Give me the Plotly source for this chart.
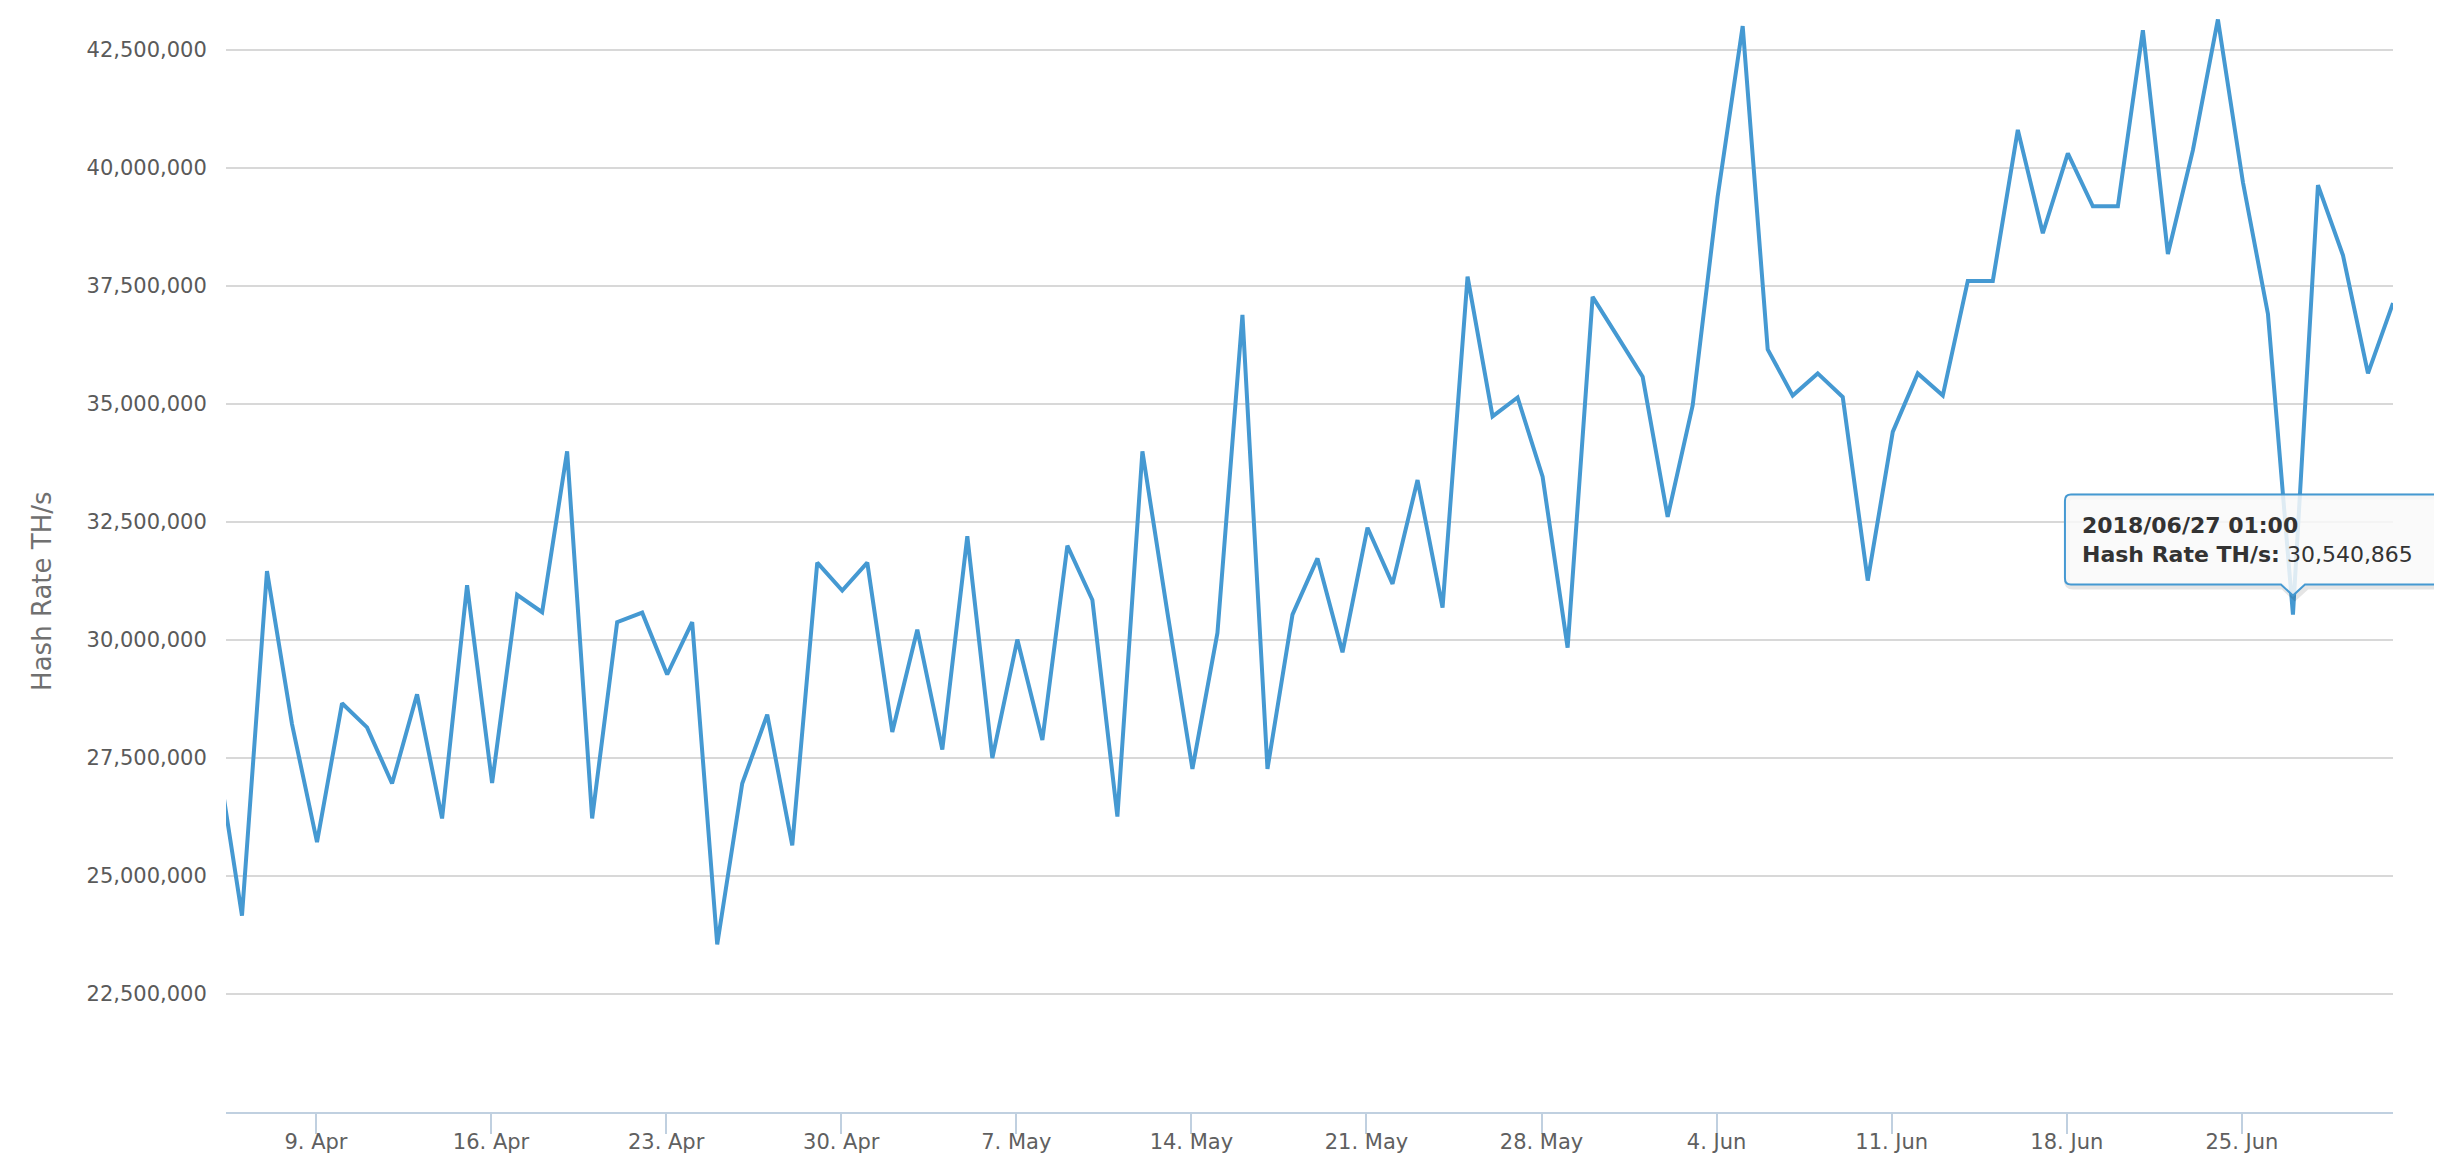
import pandas as pd
import plotly.graph_objects as go

# ---- data ----
dates = pd.date_range("2018-04-05 01:00", "2018-07-01 01:00", freq="D")
hash_rate_m = [
    # Apr 5 - Apr 30
    27.6, 24.16, 31.46, 28.22, 25.72, 28.66, 28.15, 26.96, 28.85, 26.22,
    31.16, 26.97, 30.96, 30.59, 34.00, 26.22, 30.38, 30.58, 29.27, 30.38,
    23.55, 26.96, 28.42, 25.65, 31.64, 31.05,
    # May 1 - May 31
    31.64, 28.05, 30.22, 27.68, 32.2, 27.5, 30.01, 27.88, 32.0, 30.85,
    26.26, 34.0, 30.58, 27.27, 30.15, 36.89, 27.27, 30.54, 31.73, 29.74,
    32.38, 31.19, 33.39, 30.69, 37.7, 34.74, 35.14, 33.46, 29.84, 37.27,
    36.43,
    # Jun 1 - Jun 30
    35.58, 32.61, 34.97, 39.4, 43.01, 36.16, 35.18, 35.65, 35.15, 31.26,
    34.41, 35.65, 35.18, 37.61, 37.61, 40.81, 38.62, 40.31, 39.19, 39.19,
    42.92, 38.18, 40.38, 43.15, 39.7, 36.91, 30.540865, 39.64, 38.15, 35.65,
    # Jul 1
    37.14,
]
hash_rate = [v * 1e6 for v in hash_rate_m]

x_tick_vals = ["2018-04-09", "2018-04-16", "2018-04-23", "2018-04-30",
               "2018-05-07", "2018-05-14", "2018-05-21", "2018-05-28",
               "2018-06-04", "2018-06-11", "2018-06-18", "2018-06-25"]
x_tick_text = ["9. Apr", "16. Apr", "23. Apr", "30. Apr", "7. May", "14. May",
               "21. May", "28. May", "4. Jun", "11. Jun", "18. Jun", "25. Jun"]
y_tick_vals = [22.5e6, 25e6, 27.5e6, 30e6, 32.5e6, 35e6, 37.5e6, 40e6, 42.5e6]

series_name = "Hash Rate TH/s"
tooltip_date = pd.Timestamp("2018-06-27 01:00")

x_range = [pd.Timestamp("2018-04-05 09:40"), pd.Timestamp("2018-07-01 01:00")]
y_range = [20e6, 43.35e6]

LINE = "#4599d2"
FONT = "DejaVu Sans"

fig = go.Figure()
fig.add_trace(go.Scatter(
    x=dates, y=hash_rate, mode="lines", name=series_name,
    line=dict(color=LINE, width=4), hoverinfo="skip",
))

# ---- tooltip (static callout anchored to the hovered point) ----
ti = list(dates).index(tooltip_date)
tx, ty = dates[ti], hash_rate[ti]
# position of the point as a fraction of the plot area (so the callout is not clipped)
fx = (tx - x_range[0]) / (x_range[1] - x_range[0])
fy = (ty - y_range[0]) / (y_range[1] - y_range[0])

box = ("M -222,120 L 142,120 Q 148,120 148,114 L 148,36 Q 148,30 142,30 "
       "L 12,30 L 0,19 L -12,30 L -222,30 Q -228,30 -228,36 L -228,114 "
       "Q -228,120 -222,120 Z")
shadow = ("M -220,118 L 144,118 Q 150,118 150,112 L 150,34 Q 150,28 144,28 "
          "L 14,28 L 2,17 L -10,28 L -220,28 Q -226,28 -226,34 L -226,112 "
          "Q -226,118 -220,118 Z")
for path, line, fill in [
    (shadow, dict(color="rgba(0,0,0,0.10)", width=6), "rgba(0,0,0,0)"),
    (box, dict(color=LINE, width=2), "rgba(249,249,249,0.85)"),
]:
    fig.add_shape(type="path", xref="paper", yref="paper",
                  xsizemode="pixel", ysizemode="pixel",
                  xanchor=fx, yanchor=fy, path=path, layer="above",
                  line=line, fillcolor=fill)

fig.add_annotation(
    x=fx, y=fy, xref="paper", yref="paper", showarrow=False,
    xanchor="left", yanchor="middle", xshift=-213, yshift=75, align="left",
    text=(f"<b>{tx.strftime('%Y/%m/%d %H:%M')}</b><br>"
          f"<b>{series_name}:</b> {ty:,.0f}"),
    font=dict(family=FONT, size=22, color="#333333"),
)

# ---- y axis title ----
fig.add_annotation(
    xref="paper", yref="paper", x=-0.0849, y=0.472, showarrow=False,
    text=series_name, textangle=-90, xanchor="center", yanchor="middle",
    font=dict(family=FONT, size=26, color="#707070"),
)

# page body adds an 8px offset; figure size and margins compensate so the
# plot lands in place and no scrollbars appear
fig.update_layout(
    width=2434, height=1168,
    margin=dict(l=218, r=49, t=2, b=64),
    paper_bgcolor="white", plot_bgcolor="white",
    showlegend=False,
    font=dict(family=FONT, size=21, color="#606060"),
    xaxis=dict(
        type="date",
        range=[str(x_range[0]), str(x_range[1])],
        tickvals=x_tick_vals, ticktext=x_tick_text,
        showgrid=False, zeroline=False,
        showline=True, linecolor="#C0D0E0", linewidth=2,
        ticks="outside", ticklen=20, tickwidth=2, tickcolor="#C0D0E0",
        tickfont=dict(family=FONT, size=21, color="#606060"),
        ticklabelstandoff=-10,
    ),
    yaxis=dict(
        range=y_range,
        tickvals=y_tick_vals, tickformat=",.0f",
        showgrid=True, gridcolor="#D8D8D8", gridwidth=2,
        zeroline=False, showline=False,
        ticks="outside", ticklen=14, tickcolor="rgba(0,0,0,0)",
        tickfont=dict(family=FONT, size=21, color="#5a5a5a"),
    ),
)

fig.write_html("out.html", config={"displayModeBar": False})
